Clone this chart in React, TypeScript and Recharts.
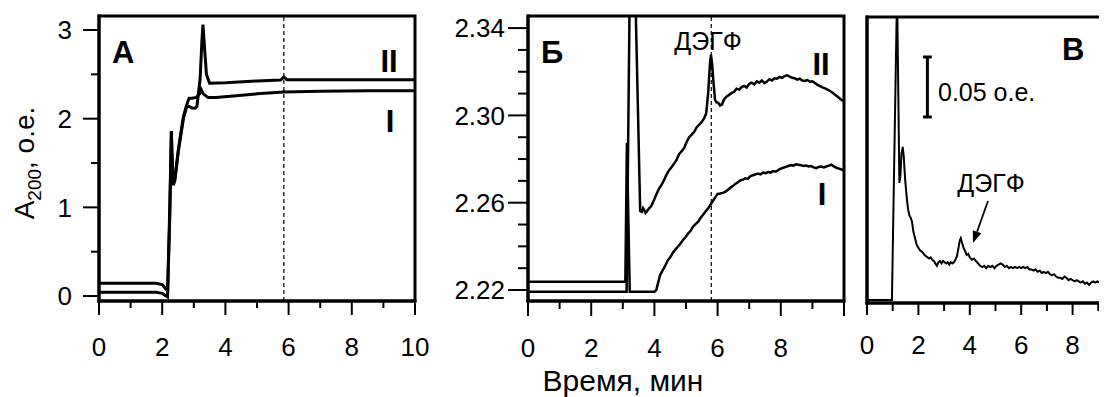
import React from 'react';
import { LineChart, Line, XAxis, YAxis, ReferenceLine, ReferenceArea } from 'recharts';

const FONT = "'Liberation Sans', Arial, Helvetica, sans-serif";

// ---------- Panel А ----------
const aTimeI = [0, 1.8, 2.0, 2.1, 2.17, 2.24, 2.29, 2.31, 2.35, 2.4, 2.51, 2.67, 2.77, 2.85, 2.95, 3.08, 3.18, 3.23, 3.3, 3.45, 3.7, 4.25, 5.0, 5.84, 7.0, 8.5, 10];
const aAbsI = [0.143, 0.143, 0.13, 0.085, 0.06, 1.0, 1.86, 1.6, 1.27, 1.32, 1.65, 2.02, 2.15, 2.23, 2.23, 2.24, 2.28, 2.33, 2.28, 2.24, 2.24, 2.255, 2.28, 2.30, 2.31, 2.315, 2.315];
const aTimeII = [0, 1.8, 2.0, 2.1, 2.17, 2.24, 2.29, 2.31, 2.35, 2.4, 2.51, 2.67, 2.77, 2.85, 2.95, 3.04, 3.1, 3.2, 3.26, 3.29, 3.33, 3.4, 3.5, 4.0, 5.0, 5.75, 5.85, 5.95, 7.0, 8.5, 10];
const aAbsII = [0.042, 0.042, 0.03, 0.005, -0.01, 0.9, 1.85, 1.55, 1.25, 1.3, 1.63, 2.0, 2.13, 2.14, 2.12, 2.117, 2.14, 2.45, 2.9, 3.06, 2.85, 2.5, 2.40, 2.405, 2.425, 2.435, 2.47, 2.44, 2.44, 2.44, 2.44];
const aXTicks = [0, 1, 2, 3, 4, 5, 6, 7, 8, 9, 10];
const aYTicks = [0, 0.5, 1, 1.5, 2, 2.5, 3];
const aMarker = 5.85;

// ---------- Panel Б ----------
const bTimeI = [0, 3.08, 3.13, 3.22, 4.0, 4.06, 4.12, 4.18, 4.26, 4.34, 4.42, 4.5, 4.58, 4.66, 4.74, 4.82, 4.9, 4.98, 5.06, 5.14, 5.22, 5.3, 5.38, 5.46, 5.54, 5.62, 5.7, 5.78, 5.86, 5.94, 6.0, 6.08, 6.16, 6.24, 6.32, 6.4, 6.48, 6.56, 6.64, 6.72, 6.8, 6.88, 6.96, 7.04, 7.12, 7.2, 7.28, 7.36, 7.44, 7.52, 7.6, 7.68, 7.76, 7.84, 7.92, 8.0, 8.08, 8.16, 8.24, 8.32, 8.4, 8.48, 8.56, 8.64, 8.72, 8.8, 8.88, 8.96, 9.04, 9.12, 9.2, 9.28, 9.36, 9.44, 9.52, 9.6, 9.68, 9.76, 9.84, 9.92, 10];
const bAbsI = [2.2238, 2.2238, 2.2875, 2.2192, 2.2192, 2.22, 2.2235, 2.2268, 2.229, 2.231, 2.2335, 2.235, 2.237, 2.2385, 2.2398, 2.2412, 2.2428, 2.2442, 2.2458, 2.247, 2.249, 2.2502, 2.2512, 2.253, 2.2545, 2.256, 2.2575, 2.2592, 2.261, 2.2628, 2.264, 2.2642, 2.2645, 2.265, 2.2658, 2.2668, 2.2676, 2.2686, 2.2694, 2.2702, 2.2706, 2.2712, 2.271, 2.2722, 2.2726, 2.273, 2.2734, 2.273, 2.2738, 2.2735, 2.274, 2.2738, 2.2745, 2.2742, 2.275, 2.2756, 2.276, 2.2764, 2.2768, 2.2772, 2.277, 2.2776, 2.2774, 2.2772, 2.2768, 2.277, 2.2766, 2.2768, 2.2762, 2.2758, 2.2764, 2.2766, 2.2762, 2.2766, 2.277, 2.2774, 2.2766, 2.276, 2.2756, 2.2752, 2.2748];
const bTimeII = [0, 3.12, 3.25, 3.33, 3.55, 3.6, 3.64, 3.68, 3.72, 3.76, 3.82, 3.9, 3.98, 4.06, 4.14, 4.22, 4.3, 4.38, 4.46, 4.54, 4.62, 4.7, 4.78, 4.86, 4.94, 5.02, 5.1, 5.18, 5.26, 5.34, 5.42, 5.5, 5.58, 5.64, 5.7, 5.76, 5.79, 5.83, 5.87, 5.92, 5.97, 6.02, 6.08, 6.14, 6.2, 6.28, 6.36, 6.44, 6.52, 6.6, 6.68, 6.76, 6.84, 6.92, 7.0, 7.08, 7.16, 7.24, 7.32, 7.4, 7.48, 7.56, 7.64, 7.72, 7.8, 7.88, 7.96, 8.04, 8.12, 8.2, 8.28, 8.36, 8.44, 8.52, 8.6, 8.68, 8.76, 8.84, 8.92, 9.0, 9.08, 9.16, 9.24, 9.32, 9.4, 9.48, 9.56, 9.64, 9.72, 9.8, 9.88, 9.95, 10];
const bAbsII = [2.2192, 2.2192, 2.4, 2.4, 2.2562, 2.2558, 2.2575, 2.2566, 2.2553, 2.256, 2.2572, 2.2585, 2.261, 2.2638, 2.2662, 2.268, 2.2702, 2.2728, 2.2748, 2.2762, 2.2778, 2.2796, 2.2822, 2.2836, 2.285, 2.2878, 2.29, 2.2912, 2.2925, 2.2946, 2.2958, 2.297, 2.2988, 2.301, 2.31, 2.324, 2.3278, 2.323, 2.315, 2.307, 2.306, 2.3058, 2.3046, 2.305, 2.3072, 2.3086, 2.3094, 2.3102, 2.3108, 2.3122, 2.3118, 2.313, 2.3135, 2.3128, 2.3145, 2.315, 2.3142, 2.3156, 2.315, 2.316, 2.3148, 2.3155, 2.3166, 2.316, 2.317, 2.3168, 2.3176, 2.3172, 2.318, 2.3184, 2.3178, 2.3172, 2.317, 2.3164, 2.3168, 2.316, 2.3158, 2.3162, 2.3154, 2.3156, 2.3148, 2.314, 2.3134, 2.3128, 2.3124, 2.3118, 2.3112, 2.3104, 2.3094, 2.3086, 2.3075, 2.3068, 2.3064];
const bXTicks = [0, 1, 2, 3, 4, 5, 6, 7, 8, 9, 10];
const bYTicks = [2.22, 2.23, 2.24, 2.25, 2.26, 2.27, 2.28, 2.29, 2.3, 2.31, 2.32, 2.33, 2.34];
const bMarker = 5.8;

// ---------- Panel В ----------
const cTime = [0, 0.97, 1.17, 1.26, 1.3, 1.34, 1.39, 1.43, 1.48, 1.55, 1.6, 1.65, 1.7, 1.75, 1.8, 1.87, 1.94, 2.0, 2.06, 2.12, 2.18, 2.24, 2.3, 2.36, 2.42, 2.48, 2.54, 2.6, 2.66, 2.72, 2.78, 2.84, 2.9, 2.96, 3.02, 3.08, 3.14, 3.2, 3.26, 3.32, 3.38, 3.44, 3.5, 3.56, 3.61, 3.65, 3.7, 3.76, 3.82, 3.88, 3.94, 4.0, 4.08, 4.16, 4.24, 4.32, 4.4, 4.48, 4.56, 4.64, 4.72, 4.8, 4.88, 4.96, 5.04, 5.12, 5.2, 5.28, 5.36, 5.44, 5.52, 5.6, 5.68, 5.76, 5.84, 5.92, 6.0, 6.08, 6.16, 6.24, 6.32, 6.4, 6.48, 6.56, 6.64, 6.72, 6.8, 6.88, 6.96, 7.04, 7.12, 7.2, 7.28, 7.36, 7.44, 7.52, 7.6, 7.68, 7.76, 7.84, 7.92, 8.0, 8.08, 8.16, 8.24, 8.32, 8.4, 8.48, 8.56, 8.64, 8.72, 8.8, 8.88, 8.96, 9.04, 9.12, 9.2, 9.28, 9.36, 9.44, 9.52, 9.6, 9.7];
const cAbs = [0.0025, 0.0025, 0.26, 0.1, 0.106, 0.124, 0.13, 0.122, 0.104, 0.087, 0.078, 0.073, 0.071, 0.068, 0.06, 0.054, 0.048, 0.046, 0.044, 0.043, 0.042, 0.04, 0.039, 0.038, 0.037, 0.038, 0.036, 0.035, 0.033, 0.031, 0.034, 0.035, 0.033, 0.035, 0.034, 0.033, 0.034, 0.032, 0.034, 0.033, 0.034, 0.036, 0.039, 0.046, 0.052, 0.054, 0.05, 0.046, 0.043, 0.04, 0.041, 0.038, 0.036, 0.037, 0.035, 0.033, 0.031, 0.03, 0.031, 0.029, 0.031, 0.03, 0.031, 0.029, 0.031, 0.032, 0.033, 0.032, 0.03, 0.031, 0.029, 0.03, 0.029, 0.03, 0.029, 0.03, 0.029, 0.03, 0.029, 0.03, 0.028, 0.028, 0.027, 0.028, 0.026, 0.027, 0.025, 0.026, 0.025, 0.026, 0.024, 0.023, 0.024, 0.022, 0.021, 0.021, 0.02, 0.022, 0.021, 0.019, 0.02, 0.019, 0.018, 0.019, 0.018, 0.017, 0.018, 0.016, 0.017, 0.015, 0.017, 0.018, 0.017, 0.018, 0.017, 0.018, 0.016, 0.017, 0.016, 0.017, 0.016, 0.017, 0.016];
const cXTicks = [0, 1, 2, 3, 4, 5, 6, 7, 8, 9, 10];
const cScaleBar = 0.05;
const cScaleBarX = 2.35;
const cScaleBarBottom = 0.155;

const zip = (t: number[], v: number[]) => t.map((x, i) => ({ t: x, v: v[i] }));

const aDomainY: [number, number] = [-0.056, 3.158];
const bDomainY: [number, number] = [2.21496, 2.34554];
const cDomainY: [number, number] = [0, 0.2383];
const xDomain: [number, number] = [0, 10];

const frame = { stroke: '#000', strokeWidth: 3, strokeLinecap: 'square' as const };

const makeXTick = (isMajor: (v: number) => boolean, showLabel: (v: number) => boolean, majorLen: number, minorLen: number, labelOff: number) => (props: any) => {
  const { x, y, payload } = props;
  const v = payload.value as number;
  const major = isMajor(v);
  return (
    <g>
      <line x1={x} y1={y} x2={x} y2={y + (major ? majorLen : minorLen)} stroke="#000" strokeWidth={2} />
      {showLabel(v) && (
        <text x={x} y={y + labelOff} dy="0.36em" textAnchor="middle" fontSize={26} fontFamily={FONT} fill="#000">
          {String(v)}
        </text>
      )}
    </g>
  );
};

const makeYTick = (isMajor: (v: number) => boolean, fmt: (v: number) => string, majorLen: number, minorLen: number, labelOff: number) => (props: any) => {
  const { x, y, payload } = props;
  const v = payload.value as number;
  const major = isMajor(v);
  return (
    <g>
      <line x1={x} y1={y} x2={x - (major ? majorLen : minorLen)} y2={y} stroke="#000" strokeWidth={2} />
      {major && (
        <text x={x - labelOff} y={y} dy="0.36em" textAnchor="end" fontSize={26} fontFamily={FONT} fill="#000">
          {fmt(v)}
        </text>
      )}
    </g>
  );
};

const isEven = (v: number) => Math.round(v) % 2 === 0;

export default function App() {
  const aI = zip(aTimeI, aAbsI);
  const aII = zip(aTimeII, aAbsII);
  const bI = zip(bTimeI, bAbsI);
  const bII = zip(bTimeII, bAbsII);
  const cD = zip(cTime, cAbs);

  // arrow geometry (annotation)
  const ax1 = 988, ay1 = 201, ax2 = 973, ay2 = 243;
  const len = Math.hypot(ax2 - ax1, ay2 - ay1);
  const ux = (ax2 - ax1) / len, uy = (ay2 - ay1) / len;
  const hb = 12, hw = 4.5;
  const bx = ax2 - ux * hb, by = ay2 - uy * hb;
  const head = `${ax2},${ay2} ${bx - uy * hw},${by + ux * hw} ${bx + uy * hw},${by - ux * hw}`;

  return (
    <div style={{ position: 'relative', width: 1107, height: 397, margin: '-8px 0 0 -8px', overflow: 'hidden', background: '#fff' }}>
      {/* Panel А */}
      <div style={{ position: 'absolute', left: 0, top: 0 }}>
        <LineChart width={430} height={397} margin={{ top: 16, right: 15, bottom: 0, left: 0 }}>
          <XAxis dataKey="t" type="number" domain={xDomain} ticks={aXTicks} interval={0} height={96} tickSize={0} tickMargin={0} tickLine={false} axisLine={frame}
            tick={makeXTick(isEven, isEven, 14, 7, 46)} allowDataOverflow />
          <YAxis type="number" domain={aDomainY} ticks={aYTicks} interval={0} width={99} tickSize={0} tickMargin={0} tickLine={false} axisLine={frame}
            tick={makeYTick((v) => Number.isInteger(v), (v) => String(v), 16, 8, 27)} allowDataOverflow />
          <ReferenceArea x1={xDomain[0]} x2={xDomain[1]} y1={aDomainY[0]} y2={aDomainY[1]} fill="none" fillOpacity={0} stroke="#000" strokeWidth={3} ifOverflow="visible" />
          <ReferenceLine x={aMarker} stroke="#000" strokeWidth={1.2} strokeDasharray="4 3" />
          <Line data={aI} dataKey="v" type="linear" dot={false} stroke="#000" strokeWidth={3} isAnimationActive={false} />
          <Line data={aII} dataKey="v" type="linear" dot={false} stroke="#000" strokeWidth={3} isAnimationActive={false} />
        </LineChart>
      </div>

      {/* Panel Б */}
      <div style={{ position: 'absolute', left: 440, top: 0 }}>
        <LineChart width={410} height={397} margin={{ top: 16, right: 6, bottom: 0, left: 0 }}>
          <XAxis dataKey="t" type="number" domain={xDomain} ticks={bXTicks} interval={0} height={96} tickSize={0} tickMargin={0} tickLine={false} axisLine={frame}
            tick={makeXTick(isEven, (v) => isEven(v) && v < 10, 15, 8, 47)} allowDataOverflow />
          <YAxis type="number" domain={bDomainY} ticks={bYTicks} interval={0} width={88} tickSize={0} tickMargin={0} tickLine={false} axisLine={frame}
            tick={makeYTick((v) => Math.round(v * 100) % 4 === 2, (v) => v.toFixed(2), 20, 10, 23)} allowDataOverflow />
          <ReferenceArea x1={xDomain[0]} x2={xDomain[1]} y1={bDomainY[0]} y2={bDomainY[1]} fill="none" fillOpacity={0} stroke="#000" strokeWidth={3} ifOverflow="visible" />
          <ReferenceLine x={bMarker} stroke="#000" strokeWidth={1.2} strokeDasharray="4 3" />
          <Line data={bI} dataKey="v" type="linear" dot={false} stroke="#000" strokeWidth={2.5} isAnimationActive={false} />
          <Line data={bII} dataKey="v" type="linear" dot={false} stroke="#000" strokeWidth={2.5} isAnimationActive={false} />
        </LineChart>
      </div>

      {/* Panel В */}
      <div style={{ position: 'absolute', left: 850, top: 0 }}>
        <LineChart width={281} height={397} margin={{ top: 17, right: 7, bottom: 0, left: 0 }}>
          <XAxis dataKey="t" type="number" domain={xDomain} ticks={cXTicks} interval={0} height={94} tickSize={0} tickMargin={0} tickLine={false} axisLine={frame}
            tick={makeXTick(isEven, (v) => isEven(v) && v < 10, 12, 8, 42)} allowDataOverflow />
          <YAxis type="number" domain={cDomainY} width={17} tick={false} tickLine={false} axisLine={frame} allowDataOverflow />
          <ReferenceArea x1={xDomain[0]} x2={xDomain[1]} y1={cDomainY[0]} y2={cDomainY[1]} fill="none" fillOpacity={0} stroke="#000" strokeWidth={3} ifOverflow="visible" />
          <ReferenceLine segment={[{ x: cScaleBarX, y: cScaleBarBottom }, { x: cScaleBarX, y: cScaleBarBottom + cScaleBar }]} stroke="#000" strokeWidth={3} />
          <ReferenceLine segment={[{ x: cScaleBarX - 0.17, y: cScaleBarBottom }, { x: cScaleBarX + 0.17, y: cScaleBarBottom }]} stroke="#000" strokeWidth={3} />
          <ReferenceLine segment={[{ x: cScaleBarX - 0.17, y: cScaleBarBottom + cScaleBar }, { x: cScaleBarX + 0.17, y: cScaleBarBottom + cScaleBar }]} stroke="#000" strokeWidth={3} />
          <Line data={cD} dataKey="v" type="linear" dot={false} stroke="#000" strokeWidth={2} isAnimationActive={false} />
        </LineChart>
      </div>

      {/* Text annotations */}
      <svg width={1107} height={397} style={{ position: 'absolute', left: 0, top: 0, pointerEvents: 'none' }} fontFamily={FONT}>
        <text transform="translate(34,163) rotate(-90)" textAnchor="middle" fontSize={28} fill="#000">
          A<tspan fontSize={19} dy={7}>200</tspan><tspan dy={-7}>, о.е.</tspan>
        </text>
        <text x={623} y={391} textAnchor="middle" fontSize={30} fill="#000">Время, мин</text>

        <text x={112} y={63} fontSize={31} fontWeight="bold" fill="#000">А</text>
        <text x={389} y={72} textAnchor="middle" fontSize={31} fontWeight="bold" fill="#000">II</text>
        <text x={390} y={132} textAnchor="middle" fontSize={31} fontWeight="bold" fill="#000">I</text>

        <text x={541} y={63} fontSize={31} fontWeight="bold" fill="#000">Б</text>
        <text x={708} y={50} textAnchor="middle" fontSize={25} fill="#000">ДЭГФ</text>
        <text x={821} y={75} textAnchor="middle" fontSize={31} fontWeight="bold" fill="#000">II</text>
        <text x={822} y={205} textAnchor="middle" fontSize={31} fontWeight="bold" fill="#000">I</text>

        <text x={1062} y={60} fontSize={31} fontWeight="bold" fill="#000">В</text>
        <text x={938} y={92} dy="0.36em" fontSize={25} fill="#000">0.05 о.е.</text>
        <text x={991} y={192} textAnchor="middle" fontSize={25} fill="#000">ДЭГФ</text>
        <line x1={ax1} y1={ay1} x2={bx} y2={by} stroke="#000" strokeWidth={1.8} />
        <polygon points={head} fill="#000" />
      </svg>
    </div>
  );
}
